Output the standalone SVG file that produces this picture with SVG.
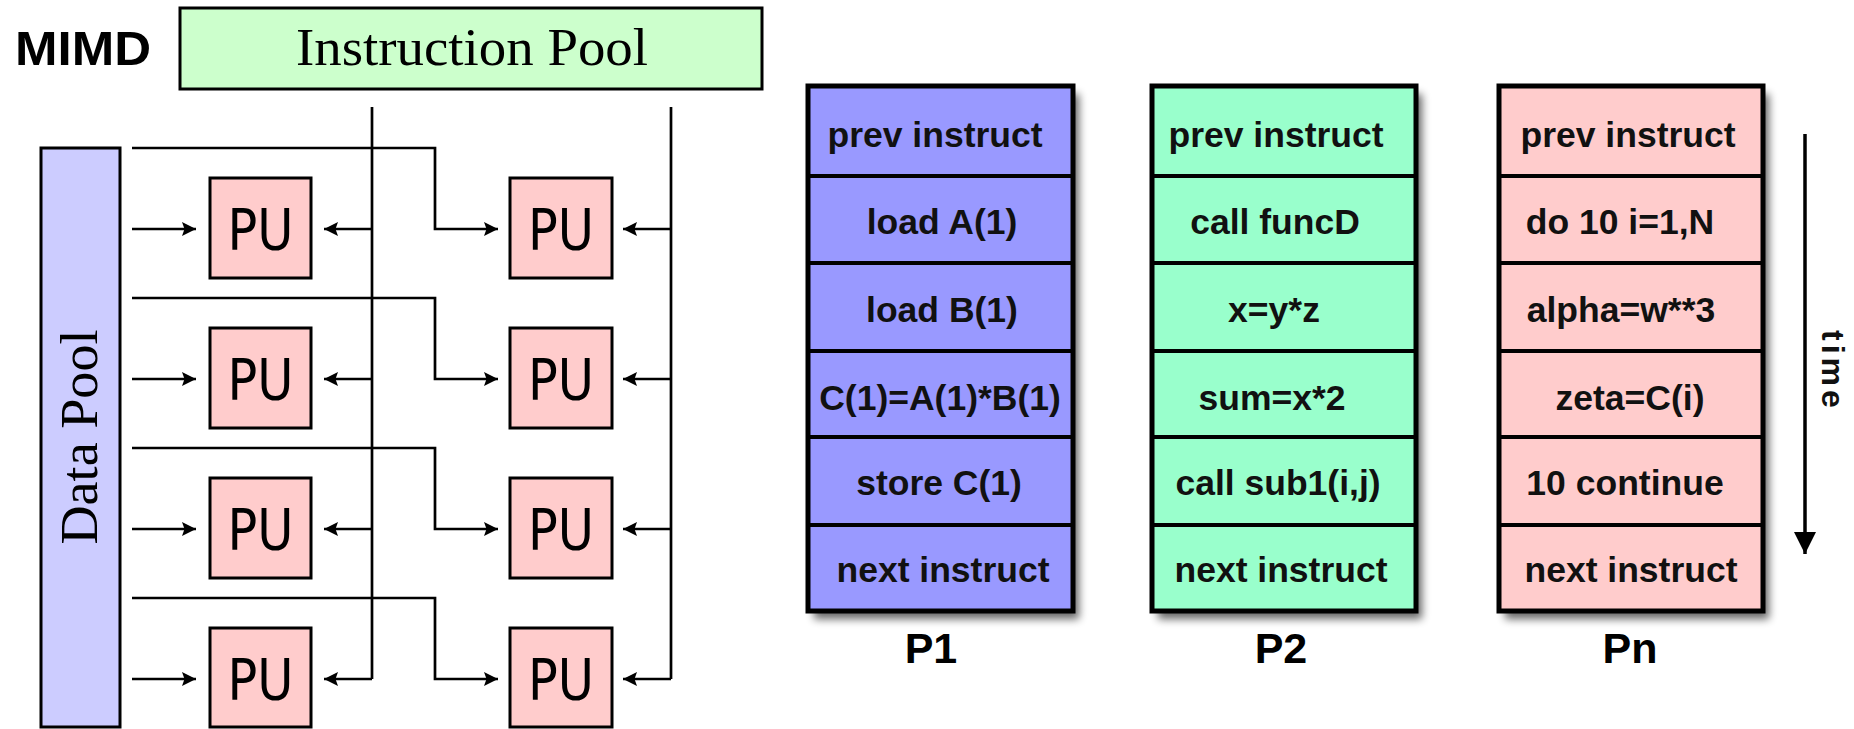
<svg xmlns="http://www.w3.org/2000/svg" width="1854" height="729" viewBox="0 0 1854 729">
  <defs>
    <style>
      .pool { stroke: #000; stroke-width: 3; }
      .pu { fill: #ffcccc; stroke: #000; stroke-width: 3; }
      .wire { fill: none; stroke: #000; stroke-width: 2.7; }
      .serif { font-family: "Liberation Serif", "Times New Roman", serif; font-size: 52px; fill: #000; }
      .putext { font-family: "DejaVu Sans", Verdana, sans-serif; font-size: 57px; fill: #000; text-anchor: middle; }
      .col { stroke: #000; stroke-width: 5; }
      .sep { stroke: #000; stroke-width: 4; }
      .shadow { fill: #000; opacity: 0.6; filter: url(#soft); }
      .ins { font-family: "Liberation Sans", Arial, sans-serif; font-weight: bold; font-size: 35.5px; fill: #111; text-anchor: middle; }
      .plabel { font-family: "Liberation Sans", Arial, sans-serif; font-weight: bold; font-size: 43px; fill: #000; text-anchor: middle; }
    </style>
    <filter id="soft" x="-20%" y="-20%" width="140%" height="140%">
      <feGaussianBlur stdDeviation="4"/>
    </filter>
    <marker id="head" markerUnits="userSpaceOnUse" markerWidth="16" markerHeight="16" refX="14" refY="7" orient="auto">
      <path d="M0,0 L14,7 L0,14 L2.5,7 z" fill="#000"/>
    </marker>
    <marker id="bighead" markerUnits="userSpaceOnUse" markerWidth="24" markerHeight="24" refX="22" refY="11" orient="auto">
      <path d="M0,0 L22,11 L0,22 z" fill="#000"/>
    </marker>
  </defs>

  <rect width="1854" height="729" fill="#fff"/>

  <!-- Title -->
  <text id="title" x="15" y="65" font-family="'Liberation Sans', Arial, sans-serif" font-weight="bold" font-size="48" textLength="136" lengthAdjust="spacingAndGlyphs">MIMD</text>

  <!-- Instruction pool -->
  <g id="instruction-pool">
    <rect class="pool" x="180" y="8" width="582" height="81" fill="#ccffcc"/>
    <text class="serif" x="472" y="65" text-anchor="middle" textLength="352" lengthAdjust="spacingAndGlyphs">Instruction Pool</text>
  </g>

  <!-- Data pool -->
  <g id="data-pool">
    <rect class="pool" x="41" y="148" width="79" height="579" fill="#ccccff"/>
    <text class="serif" font-size="54" transform="translate(97,437) rotate(-90)" text-anchor="middle" textLength="215" lengthAdjust="spacingAndGlyphs">Data Pool</text>
  </g>

  <!-- Connectors -->
  <g id="connectors">
    <!-- instruction buses -->
    <path class="wire" d="M372,107 V679"/>
    <path class="wire" d="M671,107 V679"/>
    <!-- data lines to the second column -->
    <path class="wire" d="M132,148 H435 V229 H498" marker-end="url(#head)"/>
    <path class="wire" d="M132,298 H435 V379 H498" marker-end="url(#head)"/>
    <path class="wire" d="M132,448 H435 V529 H498" marker-end="url(#head)"/>
    <path class="wire" d="M132,598 H435 V679 H498" marker-end="url(#head)"/>
    <!-- data lines to the first column -->
    <path class="wire" d="M132,229 H196" marker-end="url(#head)"/>
    <path class="wire" d="M132,379 H196" marker-end="url(#head)"/>
    <path class="wire" d="M132,529 H196" marker-end="url(#head)"/>
    <path class="wire" d="M132,679 H196" marker-end="url(#head)"/>
    <!-- instruction branches -->
    <path class="wire" d="M372,229 H324" marker-end="url(#head)"/>
    <path class="wire" d="M372,379 H324" marker-end="url(#head)"/>
    <path class="wire" d="M372,529 H324" marker-end="url(#head)"/>
    <path class="wire" d="M372,679 H324" marker-end="url(#head)"/>
    <path class="wire" d="M671,229 H623" marker-end="url(#head)"/>
    <path class="wire" d="M671,379 H623" marker-end="url(#head)"/>
    <path class="wire" d="M671,529 H623" marker-end="url(#head)"/>
    <path class="wire" d="M671,679 H623" marker-end="url(#head)"/>
    <!-- time axis -->
    <path d="M1805,134 V554" fill="none" stroke="#000" stroke-width="3.5" marker-end="url(#bighead)"/>
  </g>

  <!-- Processing units -->
  <g id="pu-1-1"><rect class="pu" x="210" y="178" width="101" height="100"/><text class="putext" x="260.5" y="250" textLength="66" lengthAdjust="spacingAndGlyphs">PU</text></g>
  <g id="pu-1-2"><rect class="pu" x="510" y="178" width="102" height="100"/><text class="putext" x="561" y="250" textLength="66" lengthAdjust="spacingAndGlyphs">PU</text></g>
  <g id="pu-2-1"><rect class="pu" x="210" y="328" width="101" height="100"/><text class="putext" x="260.5" y="400" textLength="66" lengthAdjust="spacingAndGlyphs">PU</text></g>
  <g id="pu-2-2"><rect class="pu" x="510" y="328" width="102" height="100"/><text class="putext" x="561" y="400" textLength="66" lengthAdjust="spacingAndGlyphs">PU</text></g>
  <g id="pu-3-1"><rect class="pu" x="210" y="478" width="101" height="100"/><text class="putext" x="260.5" y="550" textLength="66" lengthAdjust="spacingAndGlyphs">PU</text></g>
  <g id="pu-3-2"><rect class="pu" x="510" y="478" width="102" height="100"/><text class="putext" x="561" y="550" textLength="66" lengthAdjust="spacingAndGlyphs">PU</text></g>
  <g id="pu-4-1"><rect class="pu" x="210" y="628" width="101" height="99"/><text class="putext" x="260.5" y="700" textLength="66" lengthAdjust="spacingAndGlyphs">PU</text></g>
  <g id="pu-4-2"><rect class="pu" x="510" y="628" width="102" height="99"/><text class="putext" x="561" y="700" textLength="66" lengthAdjust="spacingAndGlyphs">PU</text></g>

  <!-- Instruction stream P1 -->
  <g id="stream-p1">
    <rect class="shadow" x="814" y="94" width="265" height="525"/>
    <rect class="col" x="808" y="86" width="265" height="525" fill="#9999ff"/>
    <path class="sep" d="M808,176 H1073 M808,263 H1073 M808,351 H1073 M808,437 H1073 M808,525 H1073"/>
    <text class="ins" x="935" y="147">prev instruct</text>
    <text class="ins" x="942" y="234">load A(1)</text>
    <text class="ins" x="942" y="322">load B(1)</text>
    <text class="ins" x="940" y="410">C(1)=A(1)*B(1)</text>
    <text class="ins" x="939" y="495">store C(1)</text>
    <text class="ins" x="943" y="582">next instruct</text>
    <text class="plabel" x="931" y="663">P1</text>
  </g>

  <!-- Instruction stream P2 -->
  <g id="stream-p2">
    <rect class="shadow" x="1158" y="94" width="264" height="525"/>
    <rect class="col" x="1152" y="86" width="264" height="525" fill="#99ffcc"/>
    <path class="sep" d="M1152,176 H1416 M1152,263 H1416 M1152,351 H1416 M1152,437 H1416 M1152,525 H1416"/>
    <text class="ins" x="1276" y="147">prev instruct</text>
    <text class="ins" x="1275" y="234">call funcD</text>
    <text class="ins" x="1274" y="322">x=y*z</text>
    <text class="ins" x="1272" y="410">sum=x*2</text>
    <text class="ins" x="1278" y="495">call sub1(i,j)</text>
    <text class="ins" x="1281" y="582">next instruct</text>
    <text class="plabel" x="1281" y="663">P2</text>
  </g>

  <!-- Instruction stream Pn -->
  <g id="stream-pn">
    <rect class="shadow" x="1505" y="94" width="264" height="525"/>
    <rect class="col" x="1499" y="86" width="264" height="525" fill="#ffcccc"/>
    <path class="sep" d="M1499,176 H1763 M1499,263 H1763 M1499,351 H1763 M1499,437 H1763 M1499,525 H1763"/>
    <text class="ins" x="1628" y="147">prev instruct</text>
    <text class="ins" x="1620" y="234">do 10 i=1,N</text>
    <text class="ins" x="1621" y="322">alpha=w**3</text>
    <text class="ins" x="1630" y="410">zeta=C(i)</text>
    <text class="ins" x="1625" y="495">10 continue</text>
    <text class="ins" x="1631" y="582">next instruct</text>
    <text class="plabel" x="1630" y="663">Pn</text>
  </g>

  <!-- Time axis label -->
  <text id="time-label" transform="translate(1822,330) rotate(90)" font-family="'Liberation Sans', Arial, sans-serif" font-weight="bold" font-size="32" letter-spacing="4" fill="#111">time</text>
</svg>
